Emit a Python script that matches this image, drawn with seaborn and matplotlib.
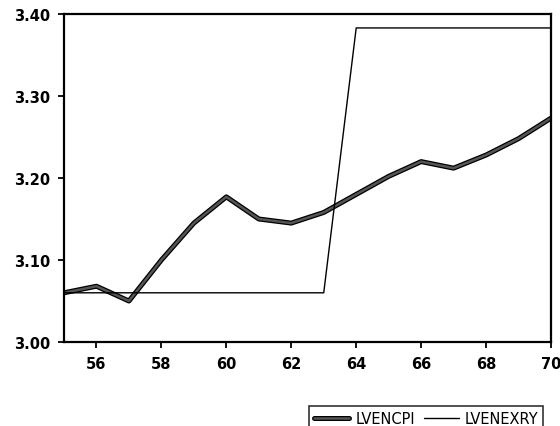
import matplotlib
matplotlib.use("Agg")
import matplotlib.pyplot as plt
import matplotlib.patheffects as pe
from matplotlib.ticker import MultipleLocator, FixedLocator
import seaborn as sns
import pandas as pd

years = list(range(55, 71))
lvencpi = [3.060, 3.068, 3.050, 3.100, 3.145, 3.177, 3.150, 3.145, 3.158,
           3.180, 3.202, 3.220, 3.212, 3.228, 3.248, 3.273]
lvenexry = [3.060, 3.060, 3.060, 3.060, 3.060, 3.060, 3.060, 3.060, 3.060,
            3.383, 3.383, 3.383, 3.383, 3.383, 3.383, 3.383]
xtick_labels = ["56", "58", "60", "62", "64", "66", "68", "70"]
ytick_labels = ["3.00", "3.10", "3.20", "3.30", "3.40"]

sns.set_style("white")
plt.rcParams['font.family'] = ['DejaVu Sans']
plt.rcParams['text.color'] = 'black'
plt.rcParams['xtick.color'] = 'black'
plt.rcParams['ytick.color'] = 'black'

df = pd.DataFrame({"year": years, "LVENCPI": lvencpi, "LVENEXRY": lvenexry})

fig = plt.figure(figsize=(5.60, 4.27), dpi=100)
ax = fig.add_axes([64/560, 1 - 343/427, (551-64)/560, (343-15)/427])

sns.lineplot(data=df, x="year", y="LVENCPI", ax=ax, color="#555555", lw=1.8,
             path_effects=[pe.Stroke(linewidth=3.6, foreground="black"), pe.Normal()],
             label="LVENCPI")
sns.lineplot(data=df, x="year", y="LVENEXRY", ax=ax, color="black", lw=1.0,
             label="LVENEXRY")

ax.set_xlim(55, 70)
ax.set_ylim(3.0, 3.4)
ax.set_xlabel("")
ax.set_ylabel("")

ax.xaxis.set_major_locator(FixedLocator([int(s) for s in xtick_labels]))
ax.set_xticklabels(xtick_labels)
ax.xaxis.set_minor_locator(MultipleLocator(1))
ax.yaxis.set_major_locator(FixedLocator([float(s) for s in ytick_labels]))
ax.set_yticklabels(ytick_labels)
ax.yaxis.set_minor_locator(MultipleLocator(0.05))

ax.tick_params(axis="both", which="both", direction="out", length=4, width=1.3,
               color="black", labelcolor="black", labelsize=10.5, pad=6)
ax.tick_params(axis="both", which="minor", length=4)
ax.tick_params(axis="both", bottom=True, left=True)
for lab in ax.get_xticklabels() + ax.get_yticklabels():
    lab.set_fontweight("bold")

for s in ax.spines.values():
    s.set_linewidth(1.6)
    s.set_color("black")

ax.legend_.remove()
h, l = ax.get_legend_handles_labels()
leg = fig.legend(h, l, loc="lower left", bbox_to_anchor=(302/560, -0.03),
                 ncol=2, frameon=True, fontsize=10.5, handlelength=2.4,
                 columnspacing=0.6, handletextpad=0.4, borderpad=0.35,
                 fancybox=False, edgecolor="black")
leg.get_frame().set_linewidth(1.2)

fig.savefig("out.png", dpi=100)
